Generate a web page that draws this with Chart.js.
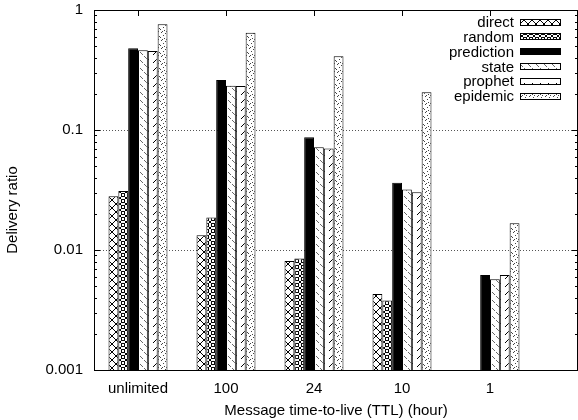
<!DOCTYPE html>
<html>
<head>
<meta charset="utf-8">
<script src="https://cdn.jsdelivr.net/npm/chart.js@4/dist/chart.umd.min.js"></script>
<style>
  html, body { margin: 0; padding: 0; background: #fff; }
  canvas { display: block; }
</style>
</head>
<body>
<canvas id="chart" width="578" height="420"></canvas>
<script>
// Delivery ratio per routing scheme for each message TTL setting
const categories = ['unlimited', '100', '24', '10', '1'];
const seriesNames = ['direct', 'random', 'prediction', 'state', 'prophet', 'epidemic'];
const direct     = [0.028, 0.0133, 0.0081, 0.0043, null];
const random     = [0.031, 0.0187, 0.0085, 0.0038, null];
const prediction = [0.48, 0.261, 0.087, 0.0364, 0.0062];
const state      = [0.461, 0.234, 0.0717, 0.032, 0.0057];
const prophet    = [0.455, 0.233, 0.070, 0.0303, 0.0062];
const epidemic   = [0.76, 0.647, 0.411, 0.206, 0.0167];
const yTicks = [0.001, 0.01, 0.1, 1];

const FONT = "'Liberation Sans', Arial, Helvetica, sans-serif";

// Monochrome fill patterns, one per scheme
function makePattern(size, paint) {
  const c = document.createElement('canvas');
  c.width = size; c.height = size;
  const g = c.getContext('2d');
  g.fillStyle = '#fff';
  g.fillRect(0, 0, size, size);
  paint(g, size);
  return document.getElementById('chart').getContext('2d').createPattern(c, 'repeat');
}

const fills = {
  direct: makePattern(8, (g, s) => {
    g.strokeStyle = '#000'; g.lineWidth = 1;
    g.beginPath();
    g.moveTo(0, 0); g.lineTo(s, s);
    g.moveTo(s, 0); g.lineTo(0, s);
    g.stroke();
  }),
  random: makePattern(6, (g, s) => {
    g.strokeStyle = '#000'; g.lineWidth = 1;
    g.beginPath();
    g.moveTo(0, 0); g.lineTo(s, s);
    g.moveTo(s, 0); g.lineTo(0, s);
    g.stroke();
    g.fillStyle = '#fff';
    g.beginPath(); g.arc(3, 3, 1.7, 0, Math.PI * 2); g.fill(); g.stroke();
  }),
  prediction: '#000',
  state: makePattern(8, (g, s) => {
    g.fillStyle = '#666';
    for (let i = 0; i < s; i++) { if (i % 4 !== 3) g.fillRect(i, i, 1, 1); }
  }),
  prophet: makePattern(8, (g, s) => {
    g.fillStyle = '#000';
    for (let i = 1; i <= 4; i++) g.fillRect(i, s - 1 - i, 1, 1);
  }),
  epidemic: makePattern(8, (g) => {
    g.fillStyle = '#444';
    [[1, 0], [5, 1], [3, 3], [7, 4], [0, 5], [4, 6], [2, 7], [6, 7]].forEach(p => g.fillRect(p[0], p[1], 1, 1));
  })
};

const seriesValues = [direct, random, prediction, state, prophet, epidemic];

const datasets = seriesNames.map((name, k) => ({
  label: name,
  data: seriesValues[k].map((v, i) => ({ x: i, y: v })),
  backgroundColor: fills[name],
  borderColor: '#000',
  borderWidth: 1,
  borderSkipped: 'start',
  categoryPercentage: 0.67,
  barPercentage: 1.0
}));

// Inward tick marks, framed plot box, gnuplot-style key and y title
const framePlugin = {
  id: 'frame',
  beforeDatasetsDraw(chart) {
    const { ctx, chartArea: a, scales } = chart;
    const y = scales.y, x = scales.x;
    ctx.save();
    ctx.strokeStyle = '#000';
    ctx.lineWidth = 1;
    ctx.beginPath();
    for (let d = -3; d < 0; d++) {
      for (let k = 1; k <= 9; k++) {
        const v = k * Math.pow(10, d);
        const py = Math.round(y.getPixelForValue(v)) + 0.5;
        const len = k === 1 ? 6 : 3;
        ctx.moveTo(a.left, py); ctx.lineTo(a.left + len, py);
        ctx.moveTo(a.right, py); ctx.lineTo(a.right - len, py);
      }
    }
    categories.forEach((c, i) => {
      const px = Math.round(x.getPixelForValue(i)) + 0.5;
      ctx.moveTo(px, a.top); ctx.lineTo(px, a.top + 6);
      ctx.moveTo(px, a.bottom); ctx.lineTo(px, a.bottom - 6);
    });
    ctx.stroke();
    ctx.restore();
  },
  afterDraw(chart) {
    const { ctx, chartArea: a } = chart;
    ctx.save();
    ctx.strokeStyle = '#000';
    ctx.lineWidth = 1;
    ctx.strokeRect(a.left + 0.5, a.top + 0.5, a.right - a.left - 1, a.bottom - a.top);

    // key
    ctx.font = '15px ' + FONT;
    ctx.textAlign = 'right';
    ctx.textBaseline = 'middle';
    ctx.fillStyle = '#000';
    chart.data.datasets.forEach((ds, i) => {
      const cy = 22 + i * 14.8;
      ctx.fillText(ds.label, 514, cy + 1);
      const bx = 520, bw = 41, bh = 7;
      const top = Math.round(cy - bh / 2);
      ctx.fillStyle = ds.backgroundColor;
      ctx.fillRect(bx, top, bw, bh);
      ctx.strokeRect(bx + 0.5, top + 0.5, bw - 1, bh - 1);
      ctx.fillStyle = '#000';
    });

    // y axis title
    ctx.translate(13, 210);
    ctx.rotate(-Math.PI / 2);
    ctx.textAlign = 'center';
    ctx.fillText('Delivery ratio', 0, 0);
    ctx.restore();
  }
};

Chart.defaults.font.family = FONT;
Chart.defaults.font.size = 15;
Chart.defaults.color = '#000';

new Chart(document.getElementById('chart'), {
  type: 'bar',
  data: { datasets },
  options: {
    responsive: false,
    animation: false,
    devicePixelRatio: 1,
    layout: { padding: { left: 0, right: 0, top: 10, bottom: 0 } },
    plugins: { legend: { display: false }, tooltip: { enabled: false } },
    scales: {
      x: {
        type: 'linear',
        min: -0.5,
        max: 5,
        offset: false,
        afterFit: s => { s.height = 50; },
        afterBuildTicks: s => { s.ticks = categories.map((c, i) => ({ value: i })); },
        ticks: { callback: v => categories[v], padding: 10, maxRotation: 0, autoSkip: false },
        grid: { display: false, drawTicks: false },
        border: { display: false },
        title: { display: true, text: 'Message time-to-live (TTL) (hour)', padding: { top: 0, bottom: 0 } }
      },
      y: {
        type: 'logarithmic',
        min: 0.001,
        max: 1,
        afterFit: s => { s.width = 94; s.paddingTop = 0; s.paddingBottom = 0; },
        afterBuildTicks: s => { s.ticks = yTicks.map(v => ({ value: v, major: true })); },
        ticks: { callback: v => String(v), padding: 11, autoSkip: false },
        grid: {
          drawTicks: false,
          lineWidth: 1,
          color: c => (c.tick && (c.tick.value === 0.01 || c.tick.value === 0.1)) ? '#555' : 'rgba(0,0,0,0)'
        },
        border: { display: false, dash: [1, 2] }
      }
    }
  },
  plugins: [framePlugin]
});
</script>
</body>
</html>
